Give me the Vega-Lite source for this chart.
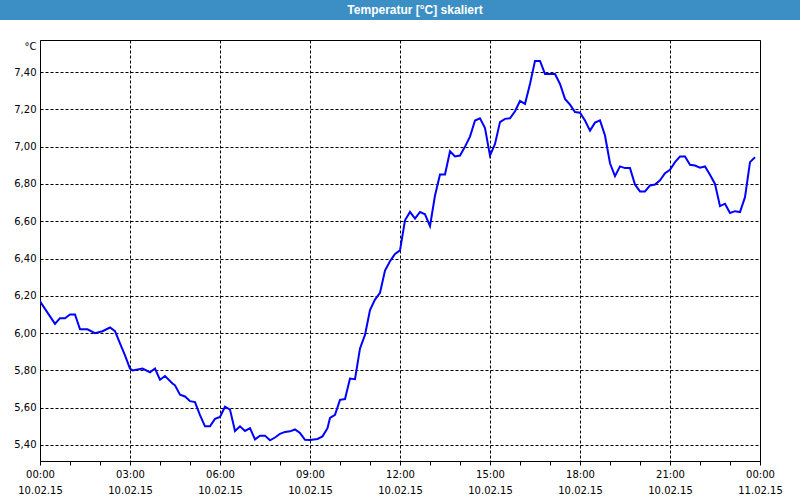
{
  "$schema": "https://vega.github.io/schema/vega-lite/v6.json",
  "background": "white",
  "padding": 0,
  "spacing": 20,
  "bounds": "flush",
  "center": true,
  "config": {
    "font": "DejaVu Sans",
    "axis": {"labelFont": "DejaVu Sans", "labelFontSize": 10, "labelColor": "#000000", "titleColor": "#000000", "titleFont": "DejaVu Sans"}
  },
  "vconcat": [
    {
      "width": 800,
      "height": 20,
      "view": {"fill": "#3C8FC4", "stroke": null},
      "data": {"values": [{"title": "Temperatur [°C] skaliert"}]},
      "mark": {"type": "text", "font": "Liberation Sans", "fontSize": 12, "fontWeight": "bold", "color": "white", "dx": 15, "baseline": "middle", "align": "center"},
      "encoding": {"text": {"field": "title", "type": "nominal"}}
    },
    {
      "width": 720,
      "height": 421,
      "view": {"fill": "white", "stroke": "#000000", "strokeWidth": 1},
      "data": {"values": [
        {"h": 0.0, "v": 6.17},
        {"h": 0.0833, "v": 6.15},
        {"h": 0.25, "v": 6.11},
        {"h": 0.5, "v": 6.05},
        {"h": 0.6667, "v": 6.08},
        {"h": 0.8333, "v": 6.08},
        {"h": 1.0, "v": 6.10},
        {"h": 1.1667, "v": 6.10},
        {"h": 1.3333, "v": 6.02},
        {"h": 1.5833, "v": 6.02},
        {"h": 1.8333, "v": 6.00},
        {"h": 2.0833, "v": 6.01},
        {"h": 2.3333, "v": 6.03},
        {"h": 2.5, "v": 6.01},
        {"h": 2.6667, "v": 5.945},
        {"h": 2.8333, "v": 5.88},
        {"h": 3.0, "v": 5.81},
        {"h": 3.0833, "v": 5.80},
        {"h": 3.4167, "v": 5.81},
        {"h": 3.6667, "v": 5.79},
        {"h": 3.8333, "v": 5.81},
        {"h": 4.0, "v": 5.75},
        {"h": 4.1667, "v": 5.77},
        {"h": 4.4167, "v": 5.73},
        {"h": 4.5, "v": 5.72},
        {"h": 4.6667, "v": 5.67},
        {"h": 4.8333, "v": 5.66},
        {"h": 5.0, "v": 5.635},
        {"h": 5.1667, "v": 5.63},
        {"h": 5.3333, "v": 5.56},
        {"h": 5.5, "v": 5.50},
        {"h": 5.6667, "v": 5.50},
        {"h": 5.8333, "v": 5.54},
        {"h": 6.0, "v": 5.55},
        {"h": 6.1667, "v": 5.605},
        {"h": 6.3333, "v": 5.59},
        {"h": 6.5, "v": 5.475},
        {"h": 6.6667, "v": 5.50},
        {"h": 6.8333, "v": 5.475},
        {"h": 7.0, "v": 5.49},
        {"h": 7.1667, "v": 5.43},
        {"h": 7.3333, "v": 5.45},
        {"h": 7.5, "v": 5.45},
        {"h": 7.6667, "v": 5.425},
        {"h": 7.8333, "v": 5.44},
        {"h": 8.0, "v": 5.46},
        {"h": 8.1667, "v": 5.47},
        {"h": 8.3333, "v": 5.473},
        {"h": 8.5, "v": 5.483},
        {"h": 8.6667, "v": 5.464},
        {"h": 8.8333, "v": 5.428},
        {"h": 9.0, "v": 5.427},
        {"h": 9.25, "v": 5.432},
        {"h": 9.4167, "v": 5.446},
        {"h": 9.5833, "v": 5.49},
        {"h": 9.6667, "v": 5.545},
        {"h": 9.8333, "v": 5.562},
        {"h": 10.0, "v": 5.642},
        {"h": 10.1667, "v": 5.646},
        {"h": 10.3333, "v": 5.756},
        {"h": 10.5, "v": 5.753},
        {"h": 10.6667, "v": 5.918},
        {"h": 10.8333, "v": 5.99},
        {"h": 11.0, "v": 6.123},
        {"h": 11.1667, "v": 6.18},
        {"h": 11.3333, "v": 6.216},
        {"h": 11.5, "v": 6.335},
        {"h": 11.6667, "v": 6.385},
        {"h": 11.8333, "v": 6.425},
        {"h": 12.0, "v": 6.444},
        {"h": 12.1667, "v": 6.605},
        {"h": 12.3333, "v": 6.65},
        {"h": 12.5, "v": 6.614},
        {"h": 12.6667, "v": 6.65},
        {"h": 12.8333, "v": 6.637},
        {"h": 13.0, "v": 6.574},
        {"h": 13.1667, "v": 6.738},
        {"h": 13.3333, "v": 6.851},
        {"h": 13.5, "v": 6.851},
        {"h": 13.6667, "v": 6.975},
        {"h": 13.8333, "v": 6.947},
        {"h": 14.0, "v": 6.952},
        {"h": 14.1667, "v": 7.00},
        {"h": 14.3333, "v": 7.054},
        {"h": 14.5, "v": 7.14},
        {"h": 14.6667, "v": 7.152},
        {"h": 14.8333, "v": 7.10},
        {"h": 15.0, "v": 6.952},
        {"h": 15.1667, "v": 7.015},
        {"h": 15.3333, "v": 7.132},
        {"h": 15.5, "v": 7.149},
        {"h": 15.6667, "v": 7.152},
        {"h": 15.8333, "v": 7.19},
        {"h": 16.0, "v": 7.245},
        {"h": 16.1667, "v": 7.229},
        {"h": 16.3333, "v": 7.336},
        {"h": 16.5, "v": 7.46},
        {"h": 16.6667, "v": 7.46},
        {"h": 16.8333, "v": 7.39},
        {"h": 17.1667, "v": 7.39},
        {"h": 17.3333, "v": 7.336},
        {"h": 17.5, "v": 7.256},
        {"h": 17.6667, "v": 7.225},
        {"h": 17.8333, "v": 7.186},
        {"h": 18.0, "v": 7.182},
        {"h": 18.1667, "v": 7.14},
        {"h": 18.3333, "v": 7.086},
        {"h": 18.5, "v": 7.129},
        {"h": 18.6667, "v": 7.141},
        {"h": 18.8333, "v": 7.06},
        {"h": 19.0, "v": 6.911},
        {"h": 19.1667, "v": 6.842},
        {"h": 19.3333, "v": 6.894},
        {"h": 19.5, "v": 6.885},
        {"h": 19.6667, "v": 6.885},
        {"h": 19.8333, "v": 6.797},
        {"h": 20.0, "v": 6.76},
        {"h": 20.1667, "v": 6.76},
        {"h": 20.3333, "v": 6.792},
        {"h": 20.5, "v": 6.797},
        {"h": 20.6667, "v": 6.819},
        {"h": 20.8333, "v": 6.858},
        {"h": 21.0, "v": 6.876},
        {"h": 21.1667, "v": 6.917},
        {"h": 21.3333, "v": 6.947},
        {"h": 21.5, "v": 6.947},
        {"h": 21.6667, "v": 6.903},
        {"h": 21.8333, "v": 6.899},
        {"h": 22.0, "v": 6.887},
        {"h": 22.1667, "v": 6.894},
        {"h": 22.3333, "v": 6.849},
        {"h": 22.5, "v": 6.80},
        {"h": 22.6667, "v": 6.681},
        {"h": 22.8333, "v": 6.694},
        {"h": 23.0, "v": 6.644},
        {"h": 23.1667, "v": 6.654},
        {"h": 23.3333, "v": 6.649},
        {"h": 23.5, "v": 6.729},
        {"h": 23.6667, "v": 6.917},
        {"h": 23.8333, "v": 6.943}
      ]},
      "mark": {"type": "line", "color": "#0000FF", "strokeWidth": 2, "clip": true},
      "encoding": {
        "x": {
          "field": "h", "type": "quantitative",
          "scale": {"domain": [0, 24], "nice": false, "zero": false},
          "axis": {
            "title": null,
            "values": [0, 1, 2, 3, 4, 5, 6, 7, 8, 9, 10, 11, 12, 13, 14, 15, 16, 17, 18, 19, 20, 21, 22, 23, 24],
            "labelExpr": "datum.value % 3 == 0 ? [(datum.value < 10 || datum.value == 24 ? '0' : '') + (datum.value % 24) + ':00', datum.value == 24 ? '11.02.15' : '10.02.15'] : ''",
            "labelOverlap": false,
            "labelFlush": false,
            "labelLineHeight": 16,
            "labelPadding": 4,
            "domain": true,
            "domainColor": "#000000",
            "ticks": true,
            "tickSize": 4,
            "tickColor": "#000000",
            "grid": true,
            "gridColor": "#000000",
            "gridDash": [3, 2],
            "gridWidth": 1,
            "gridOpacity": {"condition": {"test": "datum.value % 3 == 0", "value": 1}, "value": 0}
          }
        },
        "y": {
          "field": "v", "type": "quantitative",
          "scale": {"domain": [5.314, 7.572], "nice": false, "zero": false},
          "axis": {
            "title": "°C",
            "titleAngle": 0,
            "titleAlign": "right",
            "titleBaseline": "middle",
            "titleX": -4,
            "titleY": 6,
            "titleFontWeight": "normal",
            "titleFontSize": 10,
            "values": [5.4, 5.6, 5.8, 6.0, 6.2, 6.4, 6.6, 6.8, 7.0, 7.2, 7.4],
            "labelExpr": "replace(format(datum.value, '.2f'), '.', ',')",
            "labelPadding": 4,
            "ticks": false,
            "domain": false,
            "grid": true,
            "gridColor": "#000000",
            "gridDash": [3, 2],
            "gridWidth": 1,
            "gridOpacity": 1
          }
        }
      }
    }
  ]
}
